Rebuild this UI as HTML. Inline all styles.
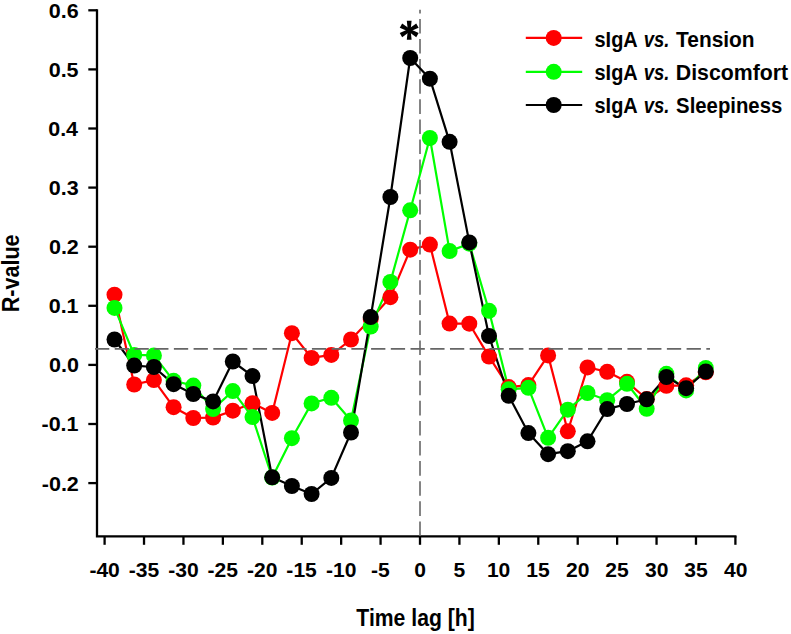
<!DOCTYPE html>
<html><head><meta charset="utf-8"><style>
html,body{margin:0;padding:0;background:#fff;}
body{width:791px;height:634px;overflow:hidden;}
svg{display:block;}
.t{font-family:"Liberation Sans",sans-serif;font-weight:bold;fill:#000;}
</style></head><body>
<svg width="791" height="634" viewBox="0 0 791 634">
<rect width="791" height="634" fill="#fff"/>
<g stroke="#000" stroke-width="2.3" stroke-linecap="butt" fill="none">
<path d="M97.0 9.3 V536.3 H736.5"/>
<path d="M88.3 483.10 H97.0"/>
<path d="M88.3 424.00 H97.0"/>
<path d="M88.3 364.90 H97.0"/>
<path d="M88.3 305.80 H97.0"/>
<path d="M88.3 246.70 H97.0"/>
<path d="M88.3 187.60 H97.0"/>
<path d="M88.3 128.50 H97.0"/>
<path d="M88.3 69.40 H97.0"/>
<path d="M88.3 10.30 H97.0"/>
<path d="M104.60 536.3 V544.8"/>
<path d="M144.02 536.3 V544.8"/>
<path d="M183.45 536.3 V544.8"/>
<path d="M222.88 536.3 V544.8"/>
<path d="M262.30 536.3 V544.8"/>
<path d="M301.73 536.3 V544.8"/>
<path d="M341.15 536.3 V544.8"/>
<path d="M380.57 536.3 V544.8"/>
<path d="M420.00 536.3 V544.8"/>
<path d="M459.42 536.3 V544.8"/>
<path d="M498.85 536.3 V544.8"/>
<path d="M538.27 536.3 V544.8"/>
<path d="M577.70 536.3 V544.8"/>
<path d="M617.12 536.3 V544.8"/>
<path d="M656.55 536.3 V544.8"/>
<path d="M695.98 536.3 V544.8"/>
<path d="M735.40 536.3 V544.8"/>
</g>
<polyline points="114.5,294.7 134.2,384.5 153.9,380.1 173.6,407.2 193.3,418.0 213.1,417.6 232.8,410.7 252.5,403.2 272.2,412.9 291.9,333.2 311.6,357.9 331.3,354.9 351.0,339.5 370.7,319.0 390.4,297.2 410.2,249.7 429.9,244.6 449.6,323.6 469.3,323.7 489.0,356.6 508.7,387.1 528.4,385.1 548.1,355.4 567.8,431.3 587.5,367.4 607.2,371.8 627.0,381.8 646.7,399.0 666.4,385.8 686.1,385.3 705.8,372.3" fill="none" stroke="#ff0000" stroke-width="2.2" stroke-linejoin="round"/>

<path d="M420 536 V9.7" stroke="#666666" stroke-width="1.6" stroke-dasharray="14.6 5.5" fill="none"/>
<polyline points="114.5,307.9 134.2,354.9 153.9,355.4 173.6,380.8 193.3,385.6 213.1,409.0 232.8,391.1 252.5,417.1 272.2,477.5 291.9,438.2 311.6,403.4 331.3,397.8 351.0,420.5 370.7,326.6 390.4,281.9 410.2,210.3 429.9,138.0 449.6,251.1 469.3,243.7 489.0,310.8 508.7,389.3 528.4,387.8 548.1,437.8 567.8,409.7 587.5,393.0 607.2,400.2 627.0,383.8 646.7,408.8 666.4,373.8 686.1,390.4 705.8,367.9" fill="none" stroke="#00ff00" stroke-width="2.2" stroke-linejoin="round"/>

<polyline points="114.5,339.5 134.2,365.6 153.9,367.0 173.6,384.2 193.3,394.0 213.1,401.4 232.8,361.5 252.5,376.1 272.2,477.3 291.9,486.0 311.6,494.0 331.3,477.9 351.0,432.5 370.7,317.1 390.4,197.0 410.2,58.0 429.9,78.7 449.6,141.8 469.3,242.4 489.0,336.0 508.7,395.8 528.4,433.1 548.1,454.2 567.8,451.2 587.5,441.3 607.2,409.1 627.0,404.0 646.7,399.3 666.4,377.0 686.1,388.2 705.8,371.5" fill="none" stroke="#000000" stroke-width="2.2" stroke-linejoin="round"/>

<circle cx="114.5" cy="294.7" r="8.0" fill="#ff0000"/><circle cx="134.2" cy="384.5" r="8.0" fill="#ff0000"/><circle cx="153.9" cy="380.1" r="8.0" fill="#ff0000"/><circle cx="173.6" cy="407.2" r="8.0" fill="#ff0000"/><circle cx="193.3" cy="418.0" r="8.0" fill="#ff0000"/><circle cx="213.1" cy="417.6" r="8.0" fill="#ff0000"/><circle cx="232.8" cy="410.7" r="8.0" fill="#ff0000"/><circle cx="252.5" cy="403.2" r="8.0" fill="#ff0000"/><circle cx="272.2" cy="412.9" r="8.0" fill="#ff0000"/><circle cx="291.9" cy="333.2" r="8.0" fill="#ff0000"/><circle cx="311.6" cy="357.9" r="8.0" fill="#ff0000"/><circle cx="331.3" cy="354.9" r="8.0" fill="#ff0000"/><circle cx="351.0" cy="339.5" r="8.0" fill="#ff0000"/><circle cx="370.7" cy="319.0" r="8.0" fill="#ff0000"/><circle cx="390.4" cy="297.2" r="8.0" fill="#ff0000"/><circle cx="410.2" cy="249.7" r="8.0" fill="#ff0000"/><circle cx="429.9" cy="244.6" r="8.0" fill="#ff0000"/><circle cx="449.6" cy="323.6" r="8.0" fill="#ff0000"/><circle cx="469.3" cy="323.7" r="8.0" fill="#ff0000"/><circle cx="489.0" cy="356.6" r="8.0" fill="#ff0000"/><circle cx="508.7" cy="387.1" r="8.0" fill="#ff0000"/><circle cx="528.4" cy="385.1" r="8.0" fill="#ff0000"/><circle cx="548.1" cy="355.4" r="8.0" fill="#ff0000"/><circle cx="567.8" cy="431.3" r="8.0" fill="#ff0000"/><circle cx="587.5" cy="367.4" r="8.0" fill="#ff0000"/><circle cx="607.2" cy="371.8" r="8.0" fill="#ff0000"/><circle cx="627.0" cy="381.8" r="8.0" fill="#ff0000"/><circle cx="646.7" cy="399.0" r="8.0" fill="#ff0000"/><circle cx="666.4" cy="385.8" r="8.0" fill="#ff0000"/><circle cx="686.1" cy="385.3" r="8.0" fill="#ff0000"/><circle cx="705.8" cy="372.3" r="8.0" fill="#ff0000"/>

<circle cx="114.5" cy="307.9" r="8.0" fill="#00ff00"/><circle cx="134.2" cy="354.9" r="8.0" fill="#00ff00"/><circle cx="153.9" cy="355.4" r="8.0" fill="#00ff00"/><circle cx="173.6" cy="380.8" r="8.0" fill="#00ff00"/><circle cx="193.3" cy="385.6" r="8.0" fill="#00ff00"/><circle cx="213.1" cy="409.0" r="8.0" fill="#00ff00"/><circle cx="232.8" cy="391.1" r="8.0" fill="#00ff00"/><circle cx="252.5" cy="417.1" r="8.0" fill="#00ff00"/><circle cx="272.2" cy="477.5" r="8.0" fill="#00ff00"/><circle cx="291.9" cy="438.2" r="8.0" fill="#00ff00"/><circle cx="311.6" cy="403.4" r="8.0" fill="#00ff00"/><circle cx="331.3" cy="397.8" r="8.0" fill="#00ff00"/><circle cx="351.0" cy="420.5" r="8.0" fill="#00ff00"/><circle cx="370.7" cy="326.6" r="8.0" fill="#00ff00"/><circle cx="390.4" cy="281.9" r="8.0" fill="#00ff00"/><circle cx="410.2" cy="210.3" r="8.0" fill="#00ff00"/><circle cx="429.9" cy="138.0" r="8.0" fill="#00ff00"/><circle cx="449.6" cy="251.1" r="8.0" fill="#00ff00"/><circle cx="469.3" cy="243.7" r="8.0" fill="#00ff00"/><circle cx="489.0" cy="310.8" r="8.0" fill="#00ff00"/><circle cx="508.7" cy="389.3" r="8.0" fill="#00ff00"/><circle cx="528.4" cy="387.8" r="8.0" fill="#00ff00"/><circle cx="548.1" cy="437.8" r="8.0" fill="#00ff00"/><circle cx="567.8" cy="409.7" r="8.0" fill="#00ff00"/><circle cx="587.5" cy="393.0" r="8.0" fill="#00ff00"/><circle cx="607.2" cy="400.2" r="8.0" fill="#00ff00"/><circle cx="627.0" cy="383.8" r="8.0" fill="#00ff00"/><circle cx="646.7" cy="408.8" r="8.0" fill="#00ff00"/><circle cx="666.4" cy="373.8" r="8.0" fill="#00ff00"/><circle cx="686.1" cy="390.4" r="8.0" fill="#00ff00"/><circle cx="705.8" cy="367.9" r="8.0" fill="#00ff00"/>

<circle cx="114.5" cy="339.5" r="8.0" fill="#000000"/><circle cx="134.2" cy="365.6" r="8.0" fill="#000000"/><circle cx="153.9" cy="367.0" r="8.0" fill="#000000"/><circle cx="173.6" cy="384.2" r="8.0" fill="#000000"/><circle cx="193.3" cy="394.0" r="8.0" fill="#000000"/><circle cx="213.1" cy="401.4" r="8.0" fill="#000000"/><circle cx="232.8" cy="361.5" r="8.0" fill="#000000"/><circle cx="252.5" cy="376.1" r="8.0" fill="#000000"/><circle cx="272.2" cy="477.3" r="8.0" fill="#000000"/><circle cx="291.9" cy="486.0" r="8.0" fill="#000000"/><circle cx="311.6" cy="494.0" r="8.0" fill="#000000"/><circle cx="331.3" cy="477.9" r="8.0" fill="#000000"/><circle cx="351.0" cy="432.5" r="8.0" fill="#000000"/><circle cx="370.7" cy="317.1" r="8.0" fill="#000000"/><circle cx="390.4" cy="197.0" r="8.0" fill="#000000"/><circle cx="410.2" cy="58.0" r="8.0" fill="#000000"/><circle cx="429.9" cy="78.7" r="8.0" fill="#000000"/><circle cx="449.6" cy="141.8" r="8.0" fill="#000000"/><circle cx="469.3" cy="242.4" r="8.0" fill="#000000"/><circle cx="489.0" cy="336.0" r="8.0" fill="#000000"/><circle cx="508.7" cy="395.8" r="8.0" fill="#000000"/><circle cx="528.4" cy="433.1" r="8.0" fill="#000000"/><circle cx="548.1" cy="454.2" r="8.0" fill="#000000"/><circle cx="567.8" cy="451.2" r="8.0" fill="#000000"/><circle cx="587.5" cy="441.3" r="8.0" fill="#000000"/><circle cx="607.2" cy="409.1" r="8.0" fill="#000000"/><circle cx="627.0" cy="404.0" r="8.0" fill="#000000"/><circle cx="646.7" cy="399.3" r="8.0" fill="#000000"/><circle cx="666.4" cy="377.0" r="8.0" fill="#000000"/><circle cx="686.1" cy="388.2" r="8.0" fill="#000000"/><circle cx="705.8" cy="371.5" r="8.0" fill="#000000"/>

<path d="M95 348.9 H710" stroke="#666666" stroke-width="1.6" stroke-dasharray="14.3 5.42" fill="none"/>
<polygon points="410.60,30.30 411.60,20.80 406.80,20.80 407.80,30.30" fill="#000"/><polygon points="409.90,31.51 418.63,27.63 416.23,23.47 408.50,29.09" fill="#000"/><polygon points="408.50,31.51 416.23,37.13 418.63,32.97 409.90,29.09" fill="#000"/><polygon points="407.80,30.30 406.80,39.80 411.60,39.80 410.60,30.30" fill="#000"/><polygon points="408.50,29.09 399.77,32.97 402.17,37.13 409.90,31.51" fill="#000"/><polygon points="409.90,29.09 402.17,23.47 399.77,27.63 408.50,31.51" fill="#000"/>
<circle cx="409.2" cy="30.3" r="2.2" fill="#000"/>
<text class="t" font-size="20.76" transform="translate(41.76,490.50) scale(1.0370,1)">-0.2</text>
<text class="t" font-size="20.76" transform="translate(41.50,431.40) scale(1.0370,1)">-0.1</text>
<text class="t" font-size="20.76" transform="translate(48.95,372.30) scale(1.0370,1)">0.0</text>
<text class="t" font-size="20.76" transform="translate(48.67,313.20) scale(1.0370,1)">0.1</text>
<text class="t" font-size="20.76" transform="translate(48.93,254.10) scale(1.0370,1)">0.2</text>
<text class="t" font-size="20.76" transform="translate(48.85,194.98) scale(1.0370,1)">0.3</text>
<text class="t" font-size="20.76" transform="translate(48.19,135.90) scale(1.0370,1)">0.4</text>
<text class="t" font-size="20.76" transform="translate(48.67,76.80) scale(1.0370,1)">0.5</text>
<text class="t" font-size="20.76" transform="translate(48.85,17.70) scale(1.0370,1)">0.6</text>
<text class="t" font-size="21.04" transform="translate(89.38,576.79) scale(1.0024,1)">-40</text>
<text class="t" font-size="21.04" transform="translate(128.66,576.79) scale(1.0024,1)">-35</text>
<text class="t" font-size="21.04" transform="translate(168.23,576.79) scale(1.0024,1)">-30</text>
<text class="t" font-size="21.04" transform="translate(207.51,576.79) scale(1.0024,1)">-25</text>
<text class="t" font-size="21.04" transform="translate(247.08,576.79) scale(1.0024,1)">-20</text>
<text class="t" font-size="21.04" transform="translate(286.36,576.79) scale(1.0024,1)">-15</text>
<text class="t" font-size="21.04" transform="translate(325.93,576.79) scale(1.0024,1)">-10</text>
<text class="t" font-size="21.04" transform="translate(371.08,576.79) scale(1.0024,1)">-5</text>
<text class="t" font-size="21.04" transform="translate(414.15,576.79) scale(1.0024,1)">0</text>
<text class="t" font-size="21.04" transform="translate(453.53,576.79) scale(1.0024,1)">5</text>
<text class="t" font-size="21.04" transform="translate(486.89,576.79) scale(1.0024,1)">10</text>
<text class="t" font-size="21.04" transform="translate(526.17,576.79) scale(1.0024,1)">15</text>
<text class="t" font-size="21.04" transform="translate(566.03,576.79) scale(1.0024,1)">20</text>
<text class="t" font-size="21.04" transform="translate(605.32,576.79) scale(1.0024,1)">25</text>
<text class="t" font-size="21.04" transform="translate(645.01,576.79) scale(1.0024,1)">30</text>
<text class="t" font-size="21.04" transform="translate(684.29,576.79) scale(1.0024,1)">35</text>
<text class="t" font-size="21.04" transform="translate(723.94,576.79) scale(1.0024,1)">40</text>
<text class="t" font-size="23.11" transform="translate(356.36,625.80) scale(0.9163,1)">Time lag [h]</text>
<g transform="rotate(-90)"><text class="t" font-size="23.40" transform="translate(-312.24,19.40) scale(0.9213,1)">R-value</text></g>
<path d="M525.8 37.9 H582.2" stroke="#ff0000" stroke-width="2.2"/>
<circle cx="553.7" cy="37.9" r="8" fill="#ff0000"/>
<text class="t" font-size="22.53" transform="translate(594.50,46.60) scale(0.8854,1)">sIgA</text>
<text class="t" font-size="22.53" font-style="italic" transform="translate(643.81,46.60) scale(0.8196,1)">vs.</text>
<text class="t" font-size="22.53" transform="translate(676.07,46.60) scale(0.9278,1)">Tension</text>
<path d="M525.8 71.8 H582.2" stroke="#00ff00" stroke-width="2.2"/>
<circle cx="553.7" cy="71.8" r="8" fill="#00ff00"/>
<text class="t" font-size="22.53" transform="translate(594.50,79.80) scale(0.8854,1)">sIgA</text>
<text class="t" font-size="22.53" font-style="italic" transform="translate(643.81,79.80) scale(0.8196,1)">vs.</text>
<text class="t" font-size="22.53" transform="translate(675.78,79.80) scale(0.9451,1)">Discomfort</text>
<path d="M525.8 105.0 H582.2" stroke="#000000" stroke-width="2.2"/>
<circle cx="553.7" cy="105.0" r="8" fill="#000000"/>
<text class="t" font-size="22.53" transform="translate(594.50,113.00) scale(0.8854,1)">sIgA</text>
<text class="t" font-size="22.53" font-style="italic" transform="translate(643.81,113.00) scale(0.8196,1)">vs.</text>
<text class="t" font-size="22.53" transform="translate(676.11,113.00) scale(0.9023,1)">Sleepiness</text>
</svg>
</body></html>
